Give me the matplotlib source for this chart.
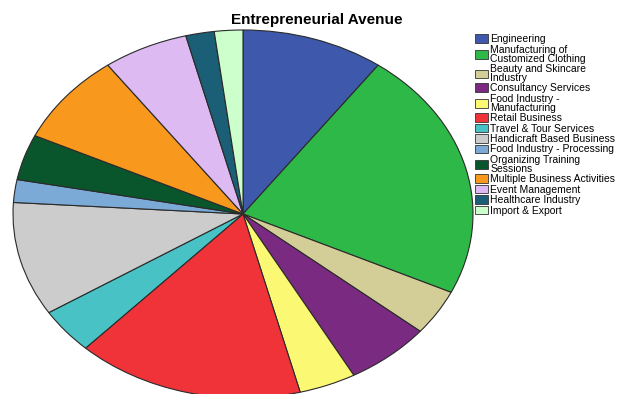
import numpy as np
import matplotlib.pyplot as plt
from matplotlib.patches import Patch

plt.rcParams['font.family'] = ['Liberation Sans', 'DejaVu Sans']

# business categories and number of respondents in each
categories = ['Engineering', 'Manufacturing of\nCustomized Clothing',
              'Beauty and Skincare\nIndustry', 'Consultancy Services',
              'Food Industry -\nManufacturing', 'Retail Business',
              'Travel & Tour Services', 'Handicraft Based Business',
              'Food Industry - Processing', 'Organizing Training\nSessions',
              'Multiple Business Activities', 'Event Management',
              'Healthcare Industry', 'Import & Export']
counts = [5, 11, 2, 3, 2, 8, 2, 5, 1, 2, 4, 3, 1, 1]
colors = ['#3e58ac', '#2eb848', '#d3ce97', '#7b2a82', '#fbf873', '#ef3338',
          '#48c2c5', '#cccccc', '#7aaad5', '#0a562c', '#f8981d', '#ddbaf1',
          '#1a5f76', '#ccffcc']

W, H = 624, 394
fig = plt.figure(figsize=(W / 100, H / 100), dpi=100)

# pie is drawn stretched into an ellipse, centre (243, 214) px, radii 230 x 184
cx, cy, rx, ry = 243, 214, 230, 184
ax = fig.add_axes([(cx - rx) / W, (H - cy - ry) / H, 2 * rx / W, 2 * ry / H])
ax.pie(counts, colors=colors, startangle=90, counterclock=False,
       wedgeprops=dict(edgecolor='#2a2a2a', linewidth=0.8))
ax.set_aspect('auto')
ax.set_xlim(-1, 1)
ax.set_ylim(-1, 1)
ax.axis('off')

fig.text(317 / W, 1 - 20 / H, 'Entrepreneurial Avenue', ha='center',
         va='center', fontsize=11, fontweight='bold')

handles = [Patch(facecolor=c, edgecolor='#333333', linewidth=0.6) for c in colors]
leg = fig.legend(handles, categories, loc='upper left',
                 bbox_to_anchor=(468 / W, 1 - 27 / H), frameon=False,
                 fontsize=7.5, labelspacing=0.045, handlelength=1.2,
                 handleheight=0.9, handletextpad=0.25, borderpad=0.2)
for t in leg.get_texts():
    t.set_linespacing(0.85)

fig.savefig('out.png', dpi=100)
